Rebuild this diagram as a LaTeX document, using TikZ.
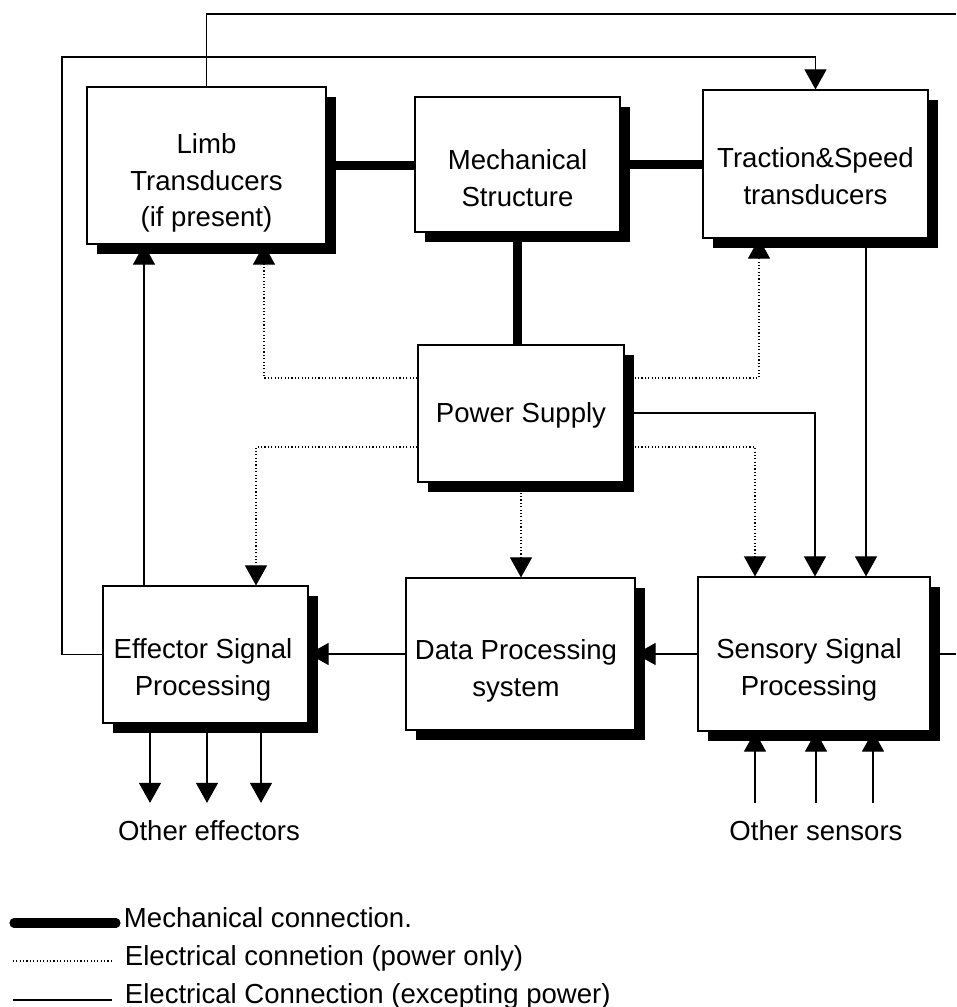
\documentclass[tikz,border=0pt]{standalone}
\usepackage{fontspec}
\setmainfont{Liberation Sans}
\usetikzlibrary{arrows.meta,shadows}

\begin{document}
\begin{tikzpicture}[x=0.025cm,y=-0.025cm,
   blk/.style={draw,line width=0.8pt,fill=white,
      drop shadow={shadow xshift=0.25cm,shadow yshift=-0.25cm,fill=black,opacity=1}},
   txt/.style={align=center,font=\fontsize{19.6}{26.2}\selectfont},
   lbl/.style={font=\fontsize{19.6}{26.2}\selectfont},
   mech/.style={line width=5.8pt},
   pwr/.style={line width=0.8pt,dash pattern=on 0.8pt off 1.6pt},
   sig/.style={line width=0.8pt},
   tip/.style={-{Triangle[length=0.5cm,width=0.55cm]}}]
   \useasboundingbox (0,0) rectangle (956,1007);

   \foreach \n/\x/\y in {r1/0/378,r2/0/447,r3/0/413,ka/264/0,kb/759/0,kc/256/0,
      kd/755/0,ke/815/0,kf/866/0,kg/144/0,ne/956/14,lw/62/57,ee/956/653}
      \coordinate (\n) at (\x,\y);

   \node[blk,minimum width=5.975cm,minimum height=3.925cm] (limb) at (206.5,165.5) {};
   \node[blk,minimum width=5.125cm,minimum height=3.375cm] (mech) at (517.5,164.5) {};
   \node[blk,minimum width=5.625cm,minimum height=3.7cm] (trac) at (815.5,164) {};
   \node[blk,minimum width=5.15cm,minimum height=3.425cm] (pwr) at (521,413.5) {};
   \node[blk,minimum width=5.125cm,minimum height=3.425cm] (eff) at (205.5,654.5) {};
   \node[blk,minimum width=5.725cm,minimum height=3.8cm] (data) at (520.5,654) {};
   \node[blk,minimum width=5.8cm,minimum height=3.85cm] (sens) at (814,654) {};

   \node[txt] (limbtxt) at (206.5,183) {Limb\\Transducers\\(if present)};
   \node[txt] (mechtxt) at (517.5,178.5) {Mechanical\\Structure};
   \node[txt] (tractxt) at (815.5,176.5) {Traction\&Speed\\transducers};
   \node[txt] (pwrtxt) at (521,415) {Power Supply};
   \node[txt] (efftxt) at (203,670) {Effector Signal\\Processing};
   \node[txt] (datatxt) at (516,671) {Data Processing\\system};
   \node[txt] (senstxt) at (809,670) {Sensory Signal\\Processing};

   % mechanical links
   \draw[mech] (limb.east) -- (limb.east -| mech.west);
   \draw[mech] (mech.east) -- (mech.east -| trac.west);
   \draw[mech] (mech.south) -- (mech.south |- pwr.north);

   % power lines
   \draw[pwr,tip] (pwr.west |- r1) -| (limb.south -| ka);
   \draw[pwr,tip] (pwr.east |- r1) -| (trac.south -| kb);
   \draw[pwr,tip] (pwr.west |- r2) -| (eff.north -| kc);
   \draw[pwr,tip] (pwr.south) -- (pwr.south |- data.north);
   \draw[pwr,tip] (pwr.east |- r2) -| (sens.north -| kd);

   % signal lines
   \draw[sig,tip] (pwr.east |- r3) -| (sens.north -| ke);
   \draw[sig,tip] (trac.south -| kf) -- (sens.north -| kf);
   \draw[sig,tip] (eff.north -| kg) -- (limb.south -| kg);
   \draw[sig,tip] (sens.west) -- (sens.west -| data.east);
   \draw[sig,tip] (data.west) -- (data.west -| eff.east);
   \draw[sig,tip] (eff.west) -| (lw) -| (trac.north);
   \draw[sig] (limb.north) |- (ne);
   \draw[sig] (sens.east) -- (sens.east -| ee);

   \node[lbl,anchor=base,inner ysep=12pt] (oeff) at (209,840) {Other effectors};
   \node[lbl,anchor=base,inner ysep=12pt] (osen) at (816,840) {Other sensors};
   \foreach \x in {150,207,261}
      \draw[sig,tip] (eff.south -| \x,0) -- (oeff.north -| \x,0);
   \foreach \x in {755,816,873}
      \draw[sig,tip] (osen.north -| \x,0) -- (sens.south -| \x,0);

   % legend
   \draw[line width=6.5pt,line cap=round] (14,923) -- (116,923);
   \draw[pwr] (13,961) -- (112,961);
   \draw[sig] (13,1000) -- (112,1000);
   \node[lbl,anchor=base west] (lmech) at (119,927) {Mechanical connection.};
   \node[lbl,anchor=base west] (lpwr) at (120,965) {Electrical connetion (power only)};
   \node[lbl,anchor=base west] (lsig) at (120,1003) {Electrical Connection (excepting power)};
\end{tikzpicture}
\end{document}
